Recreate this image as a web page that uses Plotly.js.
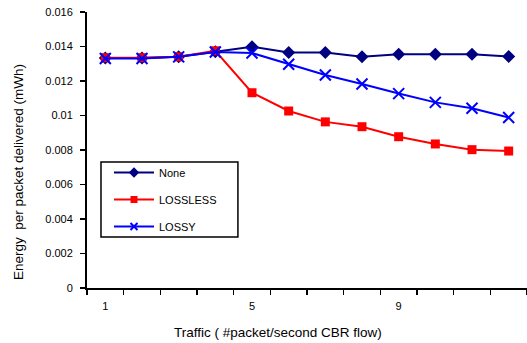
<!DOCTYPE html>
<html>
<head>
<script src="https://cdn.plot.ly/plotly-3.0.1.min.js"></script>
<style>body{margin:0;padding:0;background:#fff}#chart{width:527px;height:343px}</style>
</head>
<body>
<div id="chart"></div>
<script>
var traffic = [1,2,3,4,5,6,7,8,9,10,11,12];
var tickLabels = ['1','5','9'];
var tickPositions = [1,5,9];
var noneVals = [0.01333,0.01333,0.01340,0.01370,0.01399,0.01365,0.01365,0.01340,0.01355,0.01355,0.01355,0.01342];
var losslessVals = [0.01335,0.01335,0.01340,0.01375,0.01132,0.01026,0.00963,0.00935,0.00877,0.00835,0.00802,0.00794];
var lossyVals = [0.01330,0.01330,0.01340,0.01368,0.01362,0.01297,0.01235,0.01183,0.01127,0.01076,0.01042,0.00988];
var names = ['None','LOSSLESS','LOSSY'];
var xTitle = 'Traffic ( #packet/second CBR flow)';
var yTitle = 'Energy  per packet delivered (mWh)';

var styles = [
  {line: {color: '#000080', width: 2}, symbol: 'diamond', size: 10, lsize: 8, mline: {width: 0}},
  {line: {color: '#FF0000', width: 2}, symbol: 'square', size: 9, lsize: 7, mline: {width: 0}},
  {line: {color: '#0000FF', width: 2}, symbol: 'x-thin', size: 11, lsize: 7, mline: {color: '#0000FF', width: 2}}
];
var series = [noneVals, losslessVals, lossyVals];

var traces = [];
series.forEach(function (vals, i) {
  traces.push({x: traffic, y: vals, name: names[i], mode: 'lines+markers', showlegend: false,
    line: styles[i].line,
    marker: {symbol: styles[i].symbol, size: styles[i].size, color: styles[i].line.color, line: styles[i].mline}});
});
series.forEach(function (vals, i) {
  traces.push({x: [null], y: [null], name: names[i], mode: 'lines+markers', showlegend: true, legendgroup: 'g' + i,
    line: styles[i].line,
    marker: {symbol: styles[i].symbol, size: styles[i].lsize, color: styles[i].line.color, line: styles[i].mline}});
});

var minorVals = [];
for (var i = 0; i <= traffic.length; i++) minorVals.push(traffic[0] - 0.5 + i);

var layout = {
  width: 527, height: 343,
  margin: {l: 87, r: 0, t: 12, b: 55},
  paper_bgcolor: '#fff', plot_bgcolor: '#fff',
  font: {family: 'Liberation Sans, Arial, sans-serif', size: 11, color: '#000'},
  showlegend: true,
  legend: {x: 0.05, y: 0.471, xanchor: 'left', yanchor: 'top', borderwidth: 0,
    bgcolor: 'rgba(0,0,0,0)', font: {size: 11}, tracegroupgap: 8, itemwidth: 40},
  shapes: [{type: 'rect', xref: 'paper', yref: 'paper', x0: 0.0318, x1: 0.343, y0: 0.185, y1: 0.4565,
    line: {color: '#000', width: 1.5}, fillcolor: '#fff', layer: 'above'}],
  annotations: [
    {text: xTitle, xref: 'paper', yref: 'paper', x: 0.434, y: -0.16, xanchor: 'center', yanchor: 'middle',
     showarrow: false, font: {size: 13.5}},
    {text: yTitle, xref: 'paper', yref: 'paper', x: 0, y: 0.42, xanchor: 'center', yanchor: 'middle',
     textangle: -90, showarrow: false, font: {size: 13.5}, xshift: -69}
  ],
  xaxis: {
    range: [0.5, 12.5], showgrid: false, zeroline: false, showline: true, linecolor: '#000', linewidth: 2,
    tickvals: tickPositions, ticktext: tickLabels, ticks: '', tickfont: {size: 11}, ticklabelstandoff: 7,
    minor: {tickvals: minorVals, ticks: 'outside', ticklen: 5, tickwidth: 1.5, tickcolor: '#000', showgrid: false}
  },
  yaxis: {
    range: [0, 0.016], dtick: 0.002, tick0: 0, showgrid: false, zeroline: false, showline: true,
    linecolor: '#000', linewidth: 2, ticks: 'outside', ticklen: 5, tickwidth: 1.5, tickcolor: '#000',
    tickfont: {size: 11}, ticklabelstandoff: 5
  }
};
Plotly.newPlot('chart', traces, layout, {displayModeBar: false, staticPlot: true});
</script>
</body>
</html>
